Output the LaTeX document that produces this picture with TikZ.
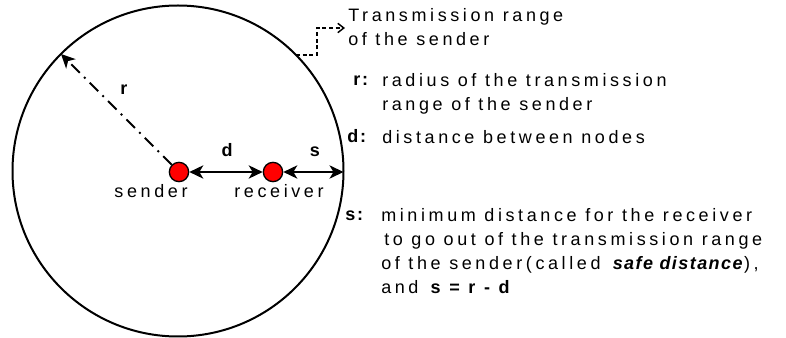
\documentclass[tikz,border=0pt]{standalone}
\usepackage{fontspec}
\setmainfont{Liberation Sans}[LetterSpace=20]
\usetikzlibrary{arrows.meta}
\newcommand{\txtsize}{\fontsize{13.5}{18}\selectfont}
\tikzset{
	sharp/.tip = {Stealth[length = 10.5pt, width = 10pt, inset = 3pt]},
	mote/.style = {circle, draw = black, fill = red, line width = 1pt, minimum size = 14.5pt, inner sep = 0pt},
	gap/.style = {sharp-sharp, line width = 1.4pt},
	txt/.style = {font = \txtsize, inner sep = 0pt},
	key/.style = {font = \txtsize\bfseries\addfontfeature{LetterSpace=10}, inner sep = 0pt},
	block/.style = {txt, align = left, anchor = north west}
}
\begin{document}
\begin{tikzpicture}[x = 0.75pt, y = -0.75pt]
		\useasboundingbox (0,0) rectangle (786,338);
		% range of the sender
		\coordinate (ctr) at (178,171);
		\draw [line width = 1.5pt] (ctr) circle (165.5);
		\coordinate (edge) at (343.5,172);
		\path (ctr) ++(-135:165.5) coordinate (rtip);
		\path (ctr) ++(-44.5:165.5) coordinate (foot);
		\coordinate (bend) at (317,28);
		\coordinate (ptr) at (345,28);
		\draw [line width = 1.1pt, dash pattern = on 3pt off 2pt, -{Straight Barb[length = 4.5pt, width = 7pt]}] (foot) -| (bend) -- (ptr);
		% the two nodes
		\node (sender) at (179,172) [mote] {};
		\node (receiver) at (273,172) [mote] {};
		\draw [line width = 1.4pt, dash pattern = on 9pt off 4.5pt on 1.5pt off 4.5pt, -sharp] (sender) -- (rtip);
		\draw [gap] (sender) -- (receiver);
		\draw [gap] (receiver) -- (edge);
		\node (rlab) at (124,95) [key, anchor = base] {r};
		\node (dlab) at (227,157) [key, anchor = base] {d};
		\node (slab) at (315,157) [key, anchor = base] {s};
		\node (sendtxt) at (151,198) [txt, anchor = base] {sender};
		\node (recvtxt) at (279,198) [txt, anchor = base] {receiver};
		% legend
		\node (range) at (348,8) [block] {Transmission range\\of the sender};
		\node (rkey) at (353,86) [key, anchor = base west] {r:};
		\node (rtext) at (382,73) [block] {radius of the transmission\\range of the sender};
		\node (dkey) at (347,143) [key, anchor = base west] {d:};
		\node (dtext) at (382,130) [block] {distance between nodes};
		\node (skey) at (345,221) [key, anchor = base west] {s:};
		\node (stext) at (381,208) [block] {minimum distance for the receiver\\
			\,to go out of the transmission range\\
			of the sender(called \textbf{\textit{\addfontfeature{LetterSpace=8}safe distance}}),\\
			and \textbf{s = r - d}};
	\end{tikzpicture}
\end{document}
